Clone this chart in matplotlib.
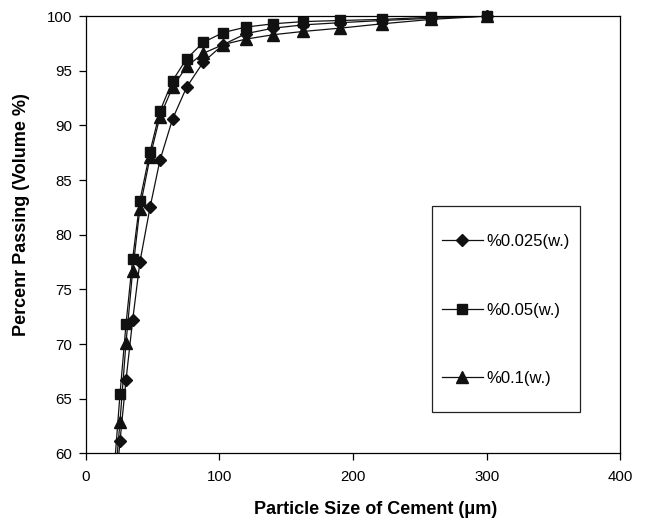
import matplotlib
matplotlib.use("Agg")
import matplotlib.pyplot as plt
from matplotlib.patches import Rectangle
from matplotlib.lines import Line2D

plt.rcParams['font.family'] = ['Liberation Sans', 'DejaVu Sans']

size_um = [21.8, 25.5, 30.0, 35.0, 40.4, 48.0, 55.4, 64.9, 75.4, 87.9, 102.8,
           119.9, 140.3, 162.8, 190.3, 222.0, 258.4, 300.0]
pass_0025 = [56.0, 61.1, 66.7, 72.2, 77.5, 82.5, 86.8, 90.6, 93.5, 95.8, 97.4,
             98.4, 98.9, 99.2, 99.4, 99.6, 99.8, 100.0]
pass_005 = [59.5, 65.4, 71.8, 77.8, 83.1, 87.6, 91.3, 94.1, 96.1, 97.6, 98.5,
            99.0, 99.3, 99.5, 99.6, 99.7, 99.9, 100.0]
pass_01 = [57.5, 62.9, 70.1, 76.7, 82.4, 87.1, 90.8, 93.5, 95.4, 96.6, 97.4,
           97.9, 98.3, 98.6, 98.9, 99.3, 99.7, 100.0]
labels = ['%0.025(w.)', '%0.05(w.)', '%0.1(w.)']
series = [pass_0025, pass_005, pass_01]
markers = ['D', 's', '^']
msizes = [6, 7.5, 8]

fig = plt.figure(figsize=(6.46, 5.2), dpi=100)
ax = fig.add_axes([0.133, 0.128, 0.827, 0.841])

col = '#111111'
handles = []
for ys, m, ms, lab in zip(series, markers, msizes, labels):
    ax.plot(size_um, ys, color=col, linewidth=0.9, clip_on=True, zorder=2)
    visible = [i for i, y in enumerate(ys) if y >= 60]
    ax.plot([size_um[i] for i in visible], [ys[i] for i in visible], linestyle='none',
            marker=m, markersize=ms, color=col, clip_on=False, zorder=3)
    handles.append(Line2D([], [], color=col, linewidth=0.9, marker=m, markersize=ms, label=lab))

ax.set_xlim(0, 400)
ax.set_ylim(60, 100)
ax.set_xticks([0, 100, 200, 300, 400])
ax.set_yticks(range(60, 101, 5))
ax.tick_params(axis='both', labelsize=10.8, length=5, width=0.9, direction='out')
ax.tick_params(axis='x', pad=7)
ax.tick_params(axis='y', pad=5)
for s in ax.spines.values():
    s.set_linewidth(0.9)

ax.set_xlabel('Particle Size of Cement (\u03bcm)', fontsize=13, fontweight='bold')
ax.set_ylabel('Percenr Passing (Volume %)', fontsize=13, fontweight='bold')
ax.xaxis.label.set_verticalalignment('center')
ax.yaxis.label.set_verticalalignment('center')
ax.xaxis.set_label_coords((376 - 86) / 534, (453.3 - 509) / 437.3)
ax.yaxis.set_label_coords((22 - 86) / 534, (453.3 - 214) / 437.3)

# legend frame
x0 = (432.3 - 86) / 534
x1 = (580 - 86) / 534
y0 = (453.3 - 411.7) / 437.3
y1 = (453.3 - 205.7) / 437.3
ax.add_patch(Rectangle((x0, y0), x1 - x0, y1 - y0, transform=ax.transAxes,
                       fill=True, facecolor='white', edgecolor='#222222', linewidth=0.9, zorder=4))
leg = ax.legend(handles=handles, loc='center left',
                bbox_to_anchor=((433.3 - 86) / 534, (453.3 - 310) / 437.3),
                frameon=False, borderpad=0, handlelength=2.45, handletextpad=0.2,
                labelspacing=3.2, fontsize=12)
leg.set_zorder(5)

fig.savefig('out.png', dpi=100)
